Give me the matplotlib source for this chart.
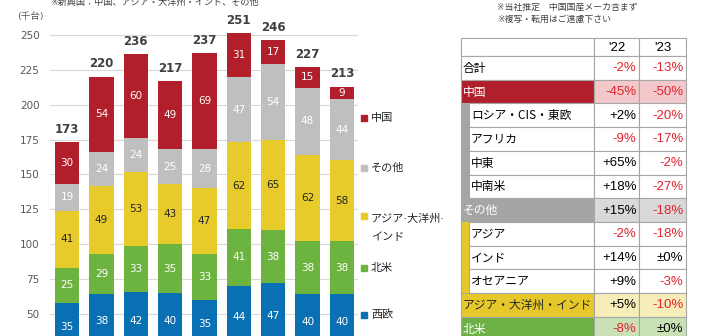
import matplotlib.pyplot as plt
from matplotlib.patches import Rectangle

plt.rcParams['font.family'] = ['DejaVu Sans', 'Noto Sans CJK JP']

# stacked bars, thousand units (bottom part below the visible range is hidden)
hidden_base = [23, 26, 24, 25, 25, 26, 25, 24, 24]
west_eu = [35, 38, 42, 40, 35, 44, 47, 40, 40]
north_am = [25, 29, 33, 35, 33, 41, 38, 38, 38]
asia = [41, 49, 53, 43, 47, 62, 65, 62, 58]
others = [19, 24, 24, 25, 28, 47, 54, 48, 44]
china = [30, 54, 60, 49, 69, 31, 17, 15, 9]
totals = [173, 220, 236, 217, 237, 251, 246, 227, 213]

series_names = ['西欧', '北米', 'アジア·大洋州·\nインド', 'その他', '中国']
series_colors = ['#0a70b4', '#6db33f', '#e6cb2a', '#bfbfbf', '#b11f2a']
label_colors = ['white', 'white', '#262626', 'white', 'white']

# table of year-on-year changes
row_labels = ['合計', '中国', 'ロシア・CIS・東欧', 'アフリカ', '中東', '中南米', 'その他',
              'アジア', 'インド', 'オセアニア', 'アジア・大洋州・インド', '北米']
chg_22 = ['-2%', '-45%', '+2%', '-9%', '+65%', '+18%', '+15%', '-2%', '+14%', '+9%', '+5%', '-8%']
chg_23 = ['-13%', '-50%', '-20%', '-17%', '-2%', '-27%', '-18%', '-18%', '±0%', '-3%', '-10%', '±0%']
col_years = ["'22", "'23"]
row_kind = ['plain', 'china', 'sub_grey', 'sub_grey', 'sub_grey', 'sub_grey', 'grey',
            'sub_yel', 'sub_yel', 'sub_yel', 'yellow', 'green']

fig = plt.figure(figsize=(7.02, 3.36), dpi=100)
ax = fig.add_axes([50 / 702, 0, 308 / 702, 1])

x = list(range(len(totals)))
bottom = list(hidden_base)
segs = [west_eu, north_am, asia, others, china]
for vals, col, lc in zip(segs, series_colors, label_colors):
    ax.bar(x, vals, bottom=bottom, width=0.71, color=col, zorder=2)
    for xi, b, v in zip(x, bottom, vals):
        ax.text(xi, b + v / 2, str(v), ha='center', va='center', fontsize=7.5,
                color=lc, zorder=3)
    bottom = [b + v for b, v in zip(bottom, vals)]

for xi, t in zip(x, totals):
    ax.annotate(str(t), (xi, t), xytext=(0, 4.5), textcoords='offset points',
                ha='center', va='bottom', fontsize=8.5, fontweight='bold', color='#404040')

ax.set_xlim(-0.5, 8.47)
ax.set_ylim(34.2, 275)
ax.set_yticks(range(50, 251, 25))
for v in range(50, 251, 25):
    ax.axhline(v, color='#d9d9d9', lw=0.8, zorder=1)
ax.set_xticks([])
ax.tick_params(axis='y', length=0, pad=7.5, labelsize=7.5, labelcolor='#595959')
for s in ax.spines.values():
    s.set_visible(False)

# overlay in pixel coordinates for notes, legend and table
ov = fig.add_axes([0, 0, 1, 1])
ov.set_xlim(0, 702)
ov.set_ylim(336, 0)
ov.axis('off')

ov.text(50, 2.5, '※新興国：中国、アジア・大洋州・インド、その他', fontsize=6.6,
        color='#404040', va='center', ha='left')
ov.text(17, 17, '(千台)', fontsize=6.8, color='#595959', va='center', ha='left')
ov.text(497, 7, '※当社推定　中国国産メーカ含まず', fontsize=6.4, color='#404040', va='center')
ov.text(497, 19, '※複写・転用はご遠慮下さい', fontsize=6.4, color='#404040', va='center')

legend_y = [315, 268, 228, 168, 118]
for name, col, ly in zip(series_names, series_colors, legend_y):
    first_y = ly - 12 if '\n' in name else ly
    ov.add_patch(Rectangle((361, first_y - 3), 6, 6, color=col))
    ov.text(371, ly, name, fontsize=8, color='#262626', va='center', ha='left',
            linespacing=2.0)

# table
x0, x1, x2, x3 = 461, 594, 639, 686
border = '#a6a6a6'
row_h = 23.7
head_top, head_h = 37.5, 18.5
kind_style = {
    'plain': ('white', '#000000', 'white'),
    'china': ('#b11f2a', 'white', '#f3c8cb'),
    'grey': ('#a5a5a5', 'white', '#d9d9d9'),
    'yellow': ('#e6c82a', '#262626', '#f6edb8'),
    'green': ('#6db045', 'white', '#c8e2b6'),
    'sub_grey': ('white', '#000000', 'white'),
    'sub_yel': ('white', '#000000', 'white'),
}
strip_col = {'sub_grey': '#a5a5a5', 'sub_yel': '#e6c82a'}

for cx0, cx1 in [(x0, x1), (x1, x2), (x2, x3)]:
    ov.add_patch(Rectangle((cx0, head_top), cx1 - cx0, head_h, fc='white', ec=border, lw=0.8))
for yr, cx0, cx1 in zip(col_years, [x1, x2], [x2, x3]):
    ov.text((cx0 + cx1) / 2, head_top + head_h / 2 + 1, yr, ha='center', va='center',
            fontsize=9.5, family=['Liberation Sans'], color='#000000')

top0 = head_top + head_h
strips = {}
for i, (lab, a, b, kind) in enumerate(zip(row_labels, chg_22, chg_23, row_kind)):
    yt = top0 + i * row_h
    lab_bg, lab_fc, val_bg = kind_style[kind]
    if kind in strip_col:
        strips.setdefault(kind, []).append(yt)
        ov.add_patch(Rectangle((x0 + 8, yt), x1 - x0 - 8, row_h, fc='white', ec=border, lw=0.8))
        tx = x0 + 10
    else:
        ov.add_patch(Rectangle((x0, yt), x1 - x0, row_h, fc=lab_bg, ec=border, lw=0.8))
        tx = x0 + 2
    ov.text(tx, yt + row_h / 2 + 0.5, lab, ha='left', va='center', fontsize=8.5,
            color=lab_fc, family=['Noto Sans CJK JP'])
    for val, cx0, cx1 in [(a, x1, x2), (b, x2, x3)]:
        ov.add_patch(Rectangle((cx0, yt), cx1 - cx0, row_h, fc=val_bg, ec=border, lw=0.8))
        vc = '#e0232d' if val.startswith('-') else '#000000'
        ov.text(cx1 - 2.5, yt + row_h / 2 + 0.5, val, ha='right', va='center', fontsize=9.5,
                color=vc, family=['Liberation Sans'])

# continuous colour strips at the left of the sub-rows
for kind, ys in strips.items():
    ov.add_patch(Rectangle((x0 + 0.4, min(ys)), 7.2, max(ys) + row_h - min(ys),
                           fc=strip_col[kind], ec='none', zorder=5))
    ov.plot([x0, x0], [min(ys), max(ys) + row_h], color=border, lw=0.8, zorder=6)

fig.savefig('out.png', dpi=100)
